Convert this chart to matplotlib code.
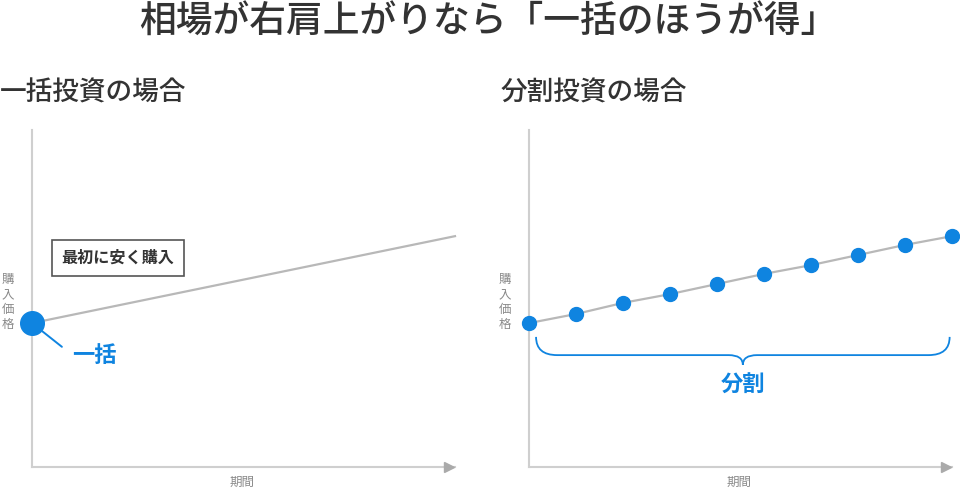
import matplotlib
matplotlib.use("Agg")
import matplotlib.pyplot as plt
from matplotlib.path import Path
from matplotlib.patches import PathPatch

plt.rcParams["font.family"] = ["Noto Sans CJK JP", "DejaVu Sans"]

# data
periods = [0, 1, 2, 3, 4, 5, 6, 7, 8, 9]
prices = [42.7, 45.4, 48.7, 51.3, 54.3, 57.3, 59.9, 62.9, 65.9, 68.5]
title = "相場が右肩上がりなら「一括のほうが得」"
panel_titles = ["一括投資の場合", "分割投資の場合"]
ylabel = "購入価格"
xlabel = "期間"

BLUE = "#0f84e0"
GRAY_LINE = "#b8b8b8"
AXIS = "#cfcfcf"
DARK = "#333333"
LABEL = "#8a8a8a"

fig = plt.figure(figsize=(9.6, 4.91), dpi=100)
fig.patch.set_facecolor("white")

fig.text(488 / 960, 1 - 22 / 491, title, ha="center", va="center",
         fontsize=26.5, color=DARK, fontweight="medium")
fig.text(0 / 960, 1 - 93 / 491, panel_titles[0], ha="left", va="center",
         fontsize=19.2, color=DARK, fontweight="medium")
fig.text(501 / 960, 1 - 93 / 491, panel_titles[1], ha="left", va="center",
         fontsize=19.2, color=DARK, fontweight="medium")


def setup_axes(left_px):
    ax = fig.add_axes([left_px / 960, 24 / 491, 423 / 960, 337 / 491])
    ax.set_xlim(0, 9)
    ax.set_ylim(0, 100)
    ax.set_xticks([])
    ax.set_yticks([])
    for side in ["top", "right"]:
        ax.spines[side].set_visible(False)
    for side in ["left", "bottom"]:
        ax.spines[side].set_color(AXIS)
        ax.spines[side].set_linewidth(1.5)
    ax.plot([0.985], [0], marker=">", markersize=6.5, color="#aaaaaa",
            transform=ax.transAxes, clip_on=False, zorder=3)
    ax.text(-0.057, 0.49, "\n".join(ylabel), transform=ax.transAxes,
            ha="center", va="center", fontsize=9, color=LABEL, linespacing=1.2)
    ax.text(0.496, -0.045, xlabel, transform=ax.transAxes,
            ha="center", va="center", fontsize=9, color=LABEL)
    ax.patch.set_alpha(0)
    return ax


# left: lump sum
ax1 = setup_axes(32)
ax1.plot([periods[0], periods[-1]], [prices[0], prices[-1]],
         color=GRAY_LINE, lw=1.6, zorder=2, clip_on=False)
ax1.plot(periods[0], prices[0], "o", color=BLUE, markersize=17,
         zorder=4, clip_on=False)
ax1.annotate("一括", xy=(periods[0], prices[0]), xytext=(29, -23),
             textcoords="offset points", ha="left", va="center",
             fontsize=16, fontweight="bold", color=BLUE,
             arrowprops=dict(arrowstyle="-", color=BLUE, lw=1.4,
                             shrinkA=7, shrinkB=9, relpos=(0, 0.5)))
ax1.text(1.83, 62.0, "最初に安く購入", ha="center", va="center",
         fontsize=11.6, fontweight="bold", color=DARK,
         bbox=dict(boxstyle="square,pad=0.6", fc="white", ec="#555555", lw=1.2))

# right: split purchases
ax2 = setup_axes(529)
ax2.plot(periods, prices, color=GRAY_LINE, lw=1.6, zorder=2, clip_on=False)
ax2.plot(periods, prices, "o", color=BLUE, markersize=10, zorder=4,
         clip_on=False, linestyle="none")

# brace under the points
x0, x1 = 0.15, 8.95
xm = (x0 + x1) / 2
y_top, y_mid, y_tip = 38.6, 33.2, 30.3
r, t = 0.45, 0.3
verts = [
    (x0, y_top), (x0, y_mid), (x0 + r, y_mid),
    (xm - t, y_mid),
    (xm, y_mid), (xm, y_tip),
    (xm, y_mid), (xm + t, y_mid),
    (x1 - r, y_mid),
    (x1, y_mid), (x1, y_top),
]
codes = [
    Path.MOVETO, Path.CURVE3, Path.CURVE3,
    Path.LINETO,
    Path.CURVE3, Path.CURVE3,
    Path.CURVE3, Path.CURVE3,
    Path.LINETO,
    Path.CURVE3, Path.CURVE3,
]
ax2.add_patch(PathPatch(Path(verts, codes), fill=False, ec=BLUE, lw=1.3,
                        clip_on=False, zorder=3))
ax2.text(xm, 24.3, "分割", ha="center", va="center",
         fontsize=16, fontweight="bold", color=BLUE)

fig.savefig("out.png", dpi=100, facecolor="white")
